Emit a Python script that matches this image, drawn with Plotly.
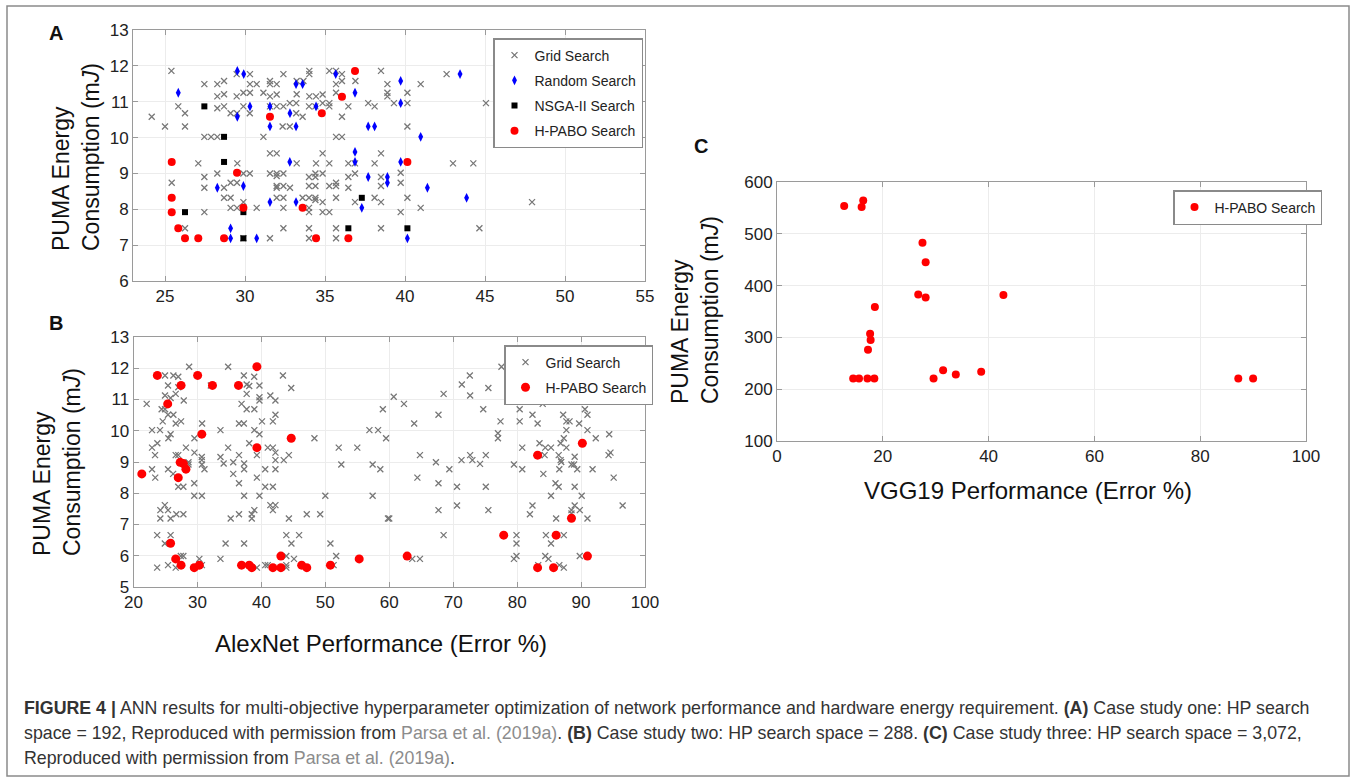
import plotly.graph_objects as go

# ---------------- Panel A data ----------------
a_grid_x = [25.4, 27.46, 28.27, 28.69, 28.27, 28.69, 29.48, 30.31, 29.48, 29.9, 30.31, 30.31, 30.73, 31.56, 31.56,
            31.98, 31.15, 31.56, 31.98, 32.4, 33.23, 33.65, 33.23, 34.02, 34.02, 34.02, 34.44, 34.85, 35.27, 35.69,
            35.69, 36.06, 36.06, 35.69, 36.9, 38.5, 38.9, 38.9, 38.9,
            25.83, 26.25, 24.17, 28.27, 28.69, 29.1, 29.5, 29.9, 30.3, 31.56, 31.98, 32.4, 32.8, 33.2, 33.2, 33.6,
            34.0, 34.4, 34.85, 35.27, 35.27, 36.06, 36.46, 37.7, 38.1,
            25.0, 26.25, 32.35, 32.8, 27.46, 27.88, 28.27, 31.15, 35.69, 36.06,
            39.31, 40.15, 40.98, 40.15, 42.6, 45.06, 40.15,
            31.56, 31.98, 34.85, 38.5,
            27.08, 29.52, 33.23, 34.44, 35.27, 36.46, 36.875, 38.1,
            27.46, 28.27, 29.9, 30.3, 31.56, 31.98, 31.98, 32.4, 34.0, 34.4, 34.4, 34.85, 36.46, 36.875, 38.5,
            25.42, 29.1, 29.5, 35.69,
            27.46, 28.69, 31.98, 31.98, 32.4, 32.81, 34.0, 34.4, 35.27, 35.69, 36.46, 38.5,
            28.69, 29.1, 31.98, 32.4, 33.6, 34.0, 34.4, 34.4, 34.85, 35.69, 36.875, 38.1, 38.5, 29.9,
            29.1, 29.5, 30.73, 32.4, 34.0, 34.0, 34.85, 35.27, 27.46,
            26.25, 32.4, 34.0, 35.69, 38.5,
            29.9, 31.56, 34.0, 35.69,
            39.73, 39.73, 40.15, 39.73, 40.98, 43.0, 44.27, 47.94, 44.65]
a_grid_y = [11.86, 11.49, 11.49, 11.58, 11.15, 11.21, 11.77, 11.77, 11.15, 11.25, 11.25, 11.49, 11.49, 11.58, 11.49,
            11.49, 11.25, 11.15, 11.2, 11.77, 11.58, 11.58, 11.21, 11.86, 11.77, 11.15, 11.15, 11.2, 11.86, 11.86,
            11.49, 11.77, 11.58, 11.25, 11.58, 11.86, 11.49, 11.25, 11.15,
            10.87, 10.68, 10.58, 10.82, 10.87, 10.68, 10.68, 10.87, 10.68, 10.87, 10.87, 10.87, 10.96, 10.96, 10.68, 10.58,
            10.87, 10.87, 10.96, 10.96, 10.87, 10.58, 10.87, 10.96, 10.87,
            10.31, 10.31, 10.31, 10.31, 10.02, 10.02, 10.02, 10.02, 10.02, 10.02,
            10.96, 10.96, 11.49, 11.25, 11.77, 10.96, 10.31,
            9.56, 9.56, 9.56, 9.56,
            9.28, 9.28, 9.28, 9.28, 9.28, 9.28, 9.28, 9.28,
            8.9, 9.0, 9.0, 9.0, 9.0, 9.0, 8.93, 9.0, 8.9, 9.0, 8.9, 9.0, 8.9, 9.0, 8.9,
            8.74, 8.74, 8.74, 8.74,
            8.6, 8.6, 8.6, 8.65, 8.65, 8.6, 8.65, 8.65, 8.65, 8.65, 8.6, 8.65,
            8.32, 8.32, 8.32, 8.32, 8.32, 8.32, 8.32, 8.26, 8.2, 8.32, 8.2, 8.32, 8.2, 8.2,
            8.04, 8.04, 8.04, 8.04, 8.04, 7.92, 7.92, 7.92, 7.92,
            7.47, 7.47, 7.47, 7.47, 7.47,
            7.19, 7.19, 7.19, 7.19,
            9.02, 8.74, 8.32, 7.92, 8.04, 9.28, 9.28, 8.2, 7.47]

a_random_x = [29.52, 29.92, 25.83, 33.19, 33.6, 35.67, 36.875, 30.31, 31.56, 34.44, 29.52, 32.81, 31.56, 33.19,
              37.7, 38.1, 36.875, 32.8, 36.875, 39.73, 43.44, 39.73, 40.98, 39.73, 37.7, 38.9, 38.9, 28.27,
              29.9, 31.56, 33.19, 37.3, 29.1, 29.1, 30.73, 41.4, 43.85, 40.15]
a_random_y = [11.86, 11.77, 11.25, 11.49, 11.49, 11.77, 11.25, 10.87, 10.87, 10.87, 10.58, 10.68, 10.31, 10.31,
              10.31, 10.31, 9.6, 9.32, 9.32, 11.58, 11.77, 10.96, 10.02, 9.32, 8.9, 8.9, 8.74, 8.6,
              8.65, 8.2, 8.2, 8.04, 7.47, 7.19, 7.19, 8.6, 8.32, 7.19]

a_nsga_x = [27.46, 28.69, 28.69, 37.3, 26.25, 29.9, 36.46, 29.9, 40.15]
a_nsga_y = [10.87, 10.02, 9.32, 8.32, 7.92, 7.92, 7.47, 7.19, 7.47]

a_hpabo_x = [36.875, 36.06, 34.8, 31.56, 25.42, 40.15, 29.5, 25.42, 25.42, 33.6, 29.9, 25.83, 26.25, 27.08,
             28.69, 34.44, 36.46]
a_hpabo_y = [11.86, 11.14, 10.68, 10.58, 9.32, 9.32, 9.02, 8.32, 7.92, 8.04, 8.04, 7.47, 7.19, 7.19,
             7.19, 7.19, 7.19]

# ---------------- Panel B data ----------------
b_grid_x = [28.7, 34.8, 24.93, 26.24, 27.0, 37.26, 38.88, 43.37, 25.4, 27.0, 37.7, 38.1, 39.7, 44.67, 24.93, 25.8,
            26.6, 27.86, 37.7, 39.7, 39.7, 41.4, 42.2, 22.06, 24.4, 24.93, 25.4, 26.24, 36.9, 37.7, 38.9, 42.2,
            24.57, 26.6, 27.44, 36.5, 37.26, 40.1, 41.8, 22.9, 24.15, 25.8, 25.45, 30.73, 33.6, 38.9, 39.7, 29.53,
            48.3, 23.73, 22.9, 28.2, 34.8, 38.1, 41.0, 41.8, 52.1, 55.0, 56.9, 58.25, 59.5, 59.0, 23.37, 26.6, 27.0,
            29.53, 30.68, 30.68, 33.6, 36.5, 39.3, 42.2, 42.2, 44.3, 43.5, 32.1,
            28.6, 28.6, 30.7, 31.1, 34.1, 35.6, 37.3, 37.3, 22.9, 25.4, 40.6, 42.2, 52.5, 57.4, 58.6, 26.2, 23.4,
            35.6, 39.3, 29.5, 36.5, 27.0, 27.8, 40.6, 41.8, 29.5, 30.7, 37.3, 39.7, 50.0, 57.4, 24.9, 24.2, 25.4,
            26.7, 27.8, 24.2, 25.8, 35.2, 36.5, 38.5, 38.5, 38.9, 41.4, 42.2, 41.8, 44.3, 47.1, 49.2, 59.8, 23.7,
            25.8, 24.9, 34.4, 37.3, 43.9, 45.9, 44.7, 50.8, 27.4, 27.8, 30.3, 33.6, 43.9, 45.1, 51.7, 23.7, 25.4,
            26.6, 30.7, 39.3, 40.6, 41.0, 43.9, 43.9, 51.3,
            77.55, 72.6, 71.35, 75.5, 72.65, 68.5, 60.7, 62.3, 67.7, 63.9, 74.7, 80.4, 82.4, 84.0, 86.5, 90.6, 91.0,
            92.3, 77.4, 80.4, 82.4, 83.2, 87.2, 87.7, 88.2, 89.7, 91.0, 94.4, 87.7, 87.3, 92.3, 77.0, 77.0, 80.8,
            83.5, 84.4, 85.3, 86.8, 87.7, 64.8, 71.3, 72.65, 73.0, 75.1, 83.5, 84.3, 86.5, 89.0, 94.3, 94.6, 86.8,
            67.3, 74.2, 79.5, 80.8, 86.9, 88.5, 88.9, 89.4, 91.8, 86.6, 69.4, 64.4, 67.7, 70.6, 75.1, 84.1, 86.0,
            86.5, 89.0, 85.3, 90.1, 67.7, 70.6, 75.5, 82.4, 82.0, 89.0, 88.5, 88.5, 89.8, 96.5, 86.1, 91.0, 60.0,
            95.1, 68.5, 79.9, 79.9, 84.5, 87.3, 85.3, 63.6, 64.8, 79.5, 79.9, 84.4, 84.9, 89.8, 83.3, 86.6, 87.3]
b_grid_y = [12.05, 12.05, 11.77, 11.77, 11.73, 11.77, 11.73, 11.77, 11.45, 11.39, 11.48, 11.43, 11.45, 11.37, 11.13,
            11.05, 11.18, 10.97, 11.18, 11.07, 10.97, 11.13, 10.97, 10.86, 10.69, 10.69, 10.51, 10.51, 10.86, 10.69,
            10.69, 10.51, 10.3, 10.23, 10.3, 10.23, 10.23, 10.3, 10.3, 10.02, 10.02, 9.89, 9.76, 10.23, 10.02, 10.02,
            9.89, 9.76, 9.76, 9.6, 9.46, 9.46, 9.46, 9.6, 9.46, 9.46, 9.46, 9.46, 10.02, 10.02, 9.76, 10.69, 9.22,
            9.22, 9.22, 9.3, 9.16, 9.06, 9.16, 9.22, 9.22, 9.3, 9.06, 9.22, 9.06, 11.45,
            8.99, 8.92, 8.92, 8.77, 8.95, 8.99, 8.95, 8.77, 8.77, 8.77, 8.77, 8.77, 8.92, 8.92, 8.77, 8.62, 8.5,
            8.62, 8.5, 8.32, 8.32, 8.21, 8.21, 8.21, 8.21, 7.92, 7.92, 7.92, 7.92, 7.92, 7.92, 7.62, 7.46, 7.46,
            7.33, 7.33, 7.19, 7.19, 7.19, 7.33, 7.33, 7.19, 7.46, 7.62, 7.62, 7.46, 7.19, 7.33, 7.33, 7.19, 6.66,
            6.66, 6.39, 6.39, 6.39, 6.66, 6.66, 6.39, 6.39, 5.99, 5.99, 5.9, 5.9, 5.99, 5.9, 5.99, 5.62, 5.70,
            5.62, 5.70, 5.62, 5.70, 5.70, 5.70, 5.62, 5.70,
            12.05, 11.77, 11.48, 11.37, 11.13, 11.18, 11.09, 10.86, 10.51, 10.23, 10.69, 10.69, 10.96, 10.86, 10.96,
            10.69, 10.51, 10.96, 10.3, 10.3, 10.51, 10.23, 10.51, 10.3, 10.3, 10.23, 10.02, 9.89, 10.02, 9.76,
            9.76, 9.92, 9.76, 9.46, 9.6, 9.46, 9.46, 9.6, 9.46, 9.22, 9.06, 9.22, 9.06, 9.22, 9.22, 9.22, 9.22,
            9.17, 9.22, 9.3, 9.06,
            8.99, 8.94, 8.92, 8.77, 9.0, 8.92, 8.92, 8.77, 8.77, 8.77, 8.77, 8.5, 8.32, 8.21, 8.21, 8.62, 8.32,
            8.21, 8.21, 7.92, 7.92, 7.46, 7.61, 7.46, 7.61, 7.33, 7.61, 7.46, 7.35, 7.46, 7.61, 7.19, 7.19, 7.19,
            8.5, 6.66, 6.66, 6.39, 6.66, 6.66, 6.39, 5.9, 5.9, 5.9, 5.99, 5.99, 5.9, 5.99, 5.70, 5.70, 5.62]

b_hpabo_x = [39.3, 23.73, 30.03, 27.44, 32.35, 36.42, 25.35, 30.68, 44.67, 39.3, 27.3, 27.8, 28.2, 21.3, 27.0,
             25.8, 26.6, 27.44, 29.5, 30.3, 36.9, 38.1, 38.5, 41.8, 43.05, 43.05, 46.3, 47.1, 50.8, 55.3,
             83.2, 90.2, 88.5, 77.9, 86.1, 62.8, 91.0, 83.2, 85.7]
b_hpabo_y = [12.05, 11.77, 11.77, 11.45, 11.45, 11.45, 10.86, 9.89, 9.76, 9.46, 8.99, 8.95, 8.77, 8.62, 8.5,
             6.4, 5.9, 5.70, 5.62, 5.70, 5.70, 5.70, 5.62, 5.62, 5.99, 5.62, 5.70, 5.62, 5.70, 5.90,
             9.22, 9.6, 7.2, 6.66, 6.66, 5.99, 5.99, 5.62, 5.62]

# ---------------- Panel C data ----------------
c_hpabo_x = [12.7, 16.3, 16.0, 27.5, 28.1, 26.7, 28.1, 42.8, 18.5, 17.6, 17.7, 17.2, 14.4, 15.5, 17.1, 18.4,
             29.6, 31.4, 33.8, 38.6, 87.2, 90.0]
c_hpabo_y = [553.5, 564.5, 551.6, 482.6, 445.0, 383.0, 376.8, 382.0, 358.7, 307.0, 294.8, 276.0, 220.6, 220.6,
             220.6, 220.6, 220.6, 236.8, 228.4, 233.5, 220.6, 220.6]

W, H = 1357, 777


def px_x(p):
    return p / W


def px_y(p):
    return (H - p) / H


FONT = "Liberation Sans, Arial, Helvetica, sans-serif"
GREY_X = dict(symbol="x-thin-open", size=6, line=dict(color="#777777", width=1.3), color="#777777")
BLUE_D = dict(symbol="diamond-tall", size=7, color="#0000ff", line=dict(width=0))
BLACK_S = dict(symbol="square", size=6, color="#000000", line=dict(width=0))
RED_C = dict(symbol="circle", size=8, color="#ff0000", line=dict(width=0))

fig = go.Figure()
fig.add_trace(go.Scatter(x=a_grid_x, y=a_grid_y, mode="markers", marker=GREY_X, name="Grid Search",
                         xaxis="x", yaxis="y", legend="legend", legendgroup="a1"))
fig.add_trace(go.Scatter(x=a_random_x, y=a_random_y, mode="markers", marker=BLUE_D, name="Random Search",
                         xaxis="x", yaxis="y", legend="legend", legendgroup="a2"))
fig.add_trace(go.Scatter(x=a_nsga_x, y=a_nsga_y, mode="markers", marker=BLACK_S, name="NSGA-II Search",
                         xaxis="x", yaxis="y", legend="legend", legendgroup="a3"))
fig.add_trace(go.Scatter(x=a_hpabo_x, y=a_hpabo_y, mode="markers", marker=RED_C, name="H-PABO Search",
                         xaxis="x", yaxis="y", legend="legend", legendgroup="a4"))

fig.add_trace(go.Scatter(x=b_grid_x, y=b_grid_y, mode="markers", marker=GREY_X, name="Grid Search",
                         xaxis="x2", yaxis="y2", legend="legend2", legendgroup="b1"))
fig.add_trace(go.Scatter(x=b_hpabo_x, y=b_hpabo_y, mode="markers", marker=dict(RED_C, size=9),
                         name="H-PABO Search", xaxis="x2", yaxis="y2", legend="legend2", legendgroup="b2"))

fig.add_trace(go.Scatter(x=c_hpabo_x, y=c_hpabo_y, mode="markers", marker=RED_C, name="H-PABO Search",
                         xaxis="x3", yaxis="y3", legend="legend3", legendgroup="c1"))

axis_common = dict(showline=True, linecolor="#9a9a9a", linewidth=1, mirror="ticks", ticks="inside",
                   ticklen=5, tickcolor="#9a9a9a", showgrid=True, gridcolor="#ececec", gridwidth=1,
                   zeroline=False, automargin=False, tickfont=dict(family=FONT, size=17, color="#222222"))

legend_common = dict(xanchor="left", yanchor="top", bgcolor="white", bordercolor="#8a8a8a", borderwidth=1.5,
                     font=dict(family=FONT, size=14, color="#222222"), tracegroupgap=4)

fig.update_layout(
    width=W, height=H, margin=dict(l=0, r=0, t=0, b=0, autoexpand=False),
    paper_bgcolor="white", plot_bgcolor="white",
    font=dict(family=FONT, color="#222222"),
    xaxis=dict(axis_common, domain=[px_x(133), px_x(645)], range=[23, 55], dtick=5, tick0=25, anchor="y"),
    yaxis=dict(axis_common, domain=[px_y(281), px_y(30)], range=[6, 13], dtick=1, anchor="x"),
    xaxis2=dict(axis_common, domain=[px_x(133.5), px_x(645)], range=[20, 100], dtick=10, anchor="y2"),
    yaxis2=dict(axis_common, domain=[px_y(587), px_y(337)], range=[5, 13], dtick=1, anchor="x2"),
    xaxis3=dict(axis_common, domain=[px_x(777), px_x(1306)], range=[0, 100], dtick=20, anchor="y3"),
    yaxis3=dict(axis_common, domain=[px_y(441), px_y(182)], range=[100, 600], dtick=100, anchor="x3"),
    legend=dict(legend_common, x=px_x(493), y=px_y(38)),
    legend2=dict(legend_common, x=px_x(504), y=px_y(345)),
    legend3=dict(legend_common, x=px_x(1173), y=px_y(190)),
    showlegend=True,
)

ann = []


def add_text(text, x, y, size, angle=0, xanchor="center", yanchor="middle", color="#111111"):
    ann.append(dict(text=text, x=px_x(x), y=px_y(y), xref="paper", yref="paper", showarrow=False,
                    xanchor=xanchor, yanchor=yanchor, textangle=angle,
                    font=dict(family=FONT, size=size, color=color), align="left"))


add_text("<b>A</b>", 56, 33, 20)
add_text("<b>B</b>", 56, 323, 20)
add_text("<b>C</b>", 701, 146, 20)
add_text("PUMA Energy<br>Consumption (m<i>J</i>)", 76, 157, 23, angle=-90)
add_text("PUMA Energy<br>Consumption (m<i>J</i>)", 57, 462, 23, angle=-90)
add_text("PUMA Energy<br>Consumption (m<i>J</i>)", 695, 310, 23, angle=-90)
add_text("AlexNet Performance (Error %)", 381, 643, 24)
add_text("VGG19 Performance (Error %)", 1028, 490, 24)

grey = "<span style='color:#8c8c8c'>Parsa et al. (2019a)</span>"
cap1 = ("<b>FIGURE 4 |</b> ANN results for multi-objective hyperparameter optimization of network performance "
        "and hardware energy requirement. <b>(A)</b> Case study one: HP search")
cap2 = ("space = 192, Reproduced with permission from " + grey +
        ". <b>(B)</b> Case study two: HP search space = 288. <b>(C)</b> Case study three: HP search space = 3,072,")
cap3 = "Reproduced with permission from " + grey + "."
add_text(cap1, 22, 708, 17.8, xanchor="left", color="#333333")
add_text(cap2, 22, 733, 17.8, xanchor="left", color="#333333")
add_text(cap3, 22, 758, 17.8, xanchor="left", color="#333333")

fig.update_layout(annotations=ann)

fig.add_shape(type="rect", xref="paper", yref="paper", x0=px_x(7), x1=px_x(1349), y0=px_y(776), y1=px_y(6),
              line=dict(color="#8a8a8a", width=1.5), fillcolor="rgba(0,0,0,0)", layer="below")

fig.write_html("out.html", config={"displayModeBar": False},
               post_script="document.body.style.margin='0';document.body.style.padding='0';"
                           "document.body.style.overflow='hidden';")
